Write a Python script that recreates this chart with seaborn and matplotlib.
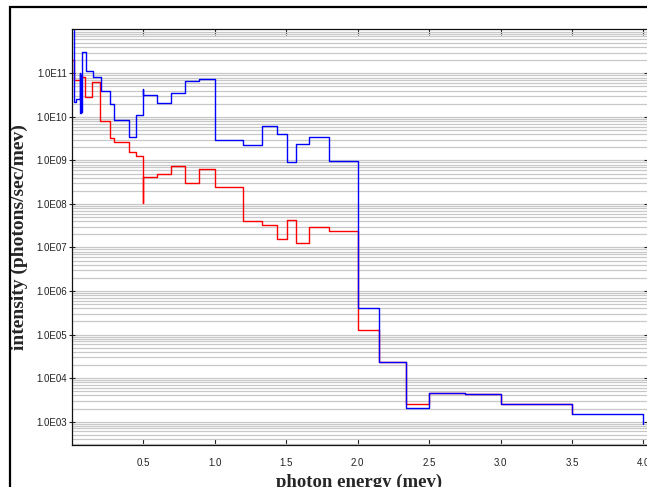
import matplotlib
matplotlib.use("Agg")
import matplotlib.pyplot as plt
import matplotlib.ticker as mticker
from matplotlib.patches import Rectangle
import numpy as np
import pandas as pd
import seaborn as sns

# ---- data (step histograms, value holds from x[i] to x[i+1]) ----
blue_x = [0.0, 0.013, 0.03, 0.056, 0.059, 0.063, 0.066, 0.069, 0.095, 0.145, 0.2,
          0.264, 0.295, 0.397, 0.449, 0.5, 0.5, 0.593, 0.696, 0.79, 0.89, 1.0,
          1.2, 1.33, 1.438, 1.504, 1.567, 1.66, 1.8, 2.0, 2.15, 2.34, 2.5,
          2.75, 3.0, 3.5, 4.0]
blue_y = [1e13, 2.2e10, 2.6e10, 1.0e11, 1.2e10, 9.0e10, 1.3e10, 3.1e11, 1.1e11, 8.1e10, 4.0e10,
          1.94e10, 8.3e9, 3.4e9, 1.08e10, 4.3e10, 3.2e10, 2.05e10, 3.6e10, 6.8e10, 7.4e10, 2.9e9,
          2.2e9, 6.2e9, 4.1e9, 9.1e8, 2.4e9, 3.5e9, 9.8e8, 4.0e5, 2.4e4, 2.1e3, 4.6e3,
          4.4e3, 2.6e3, 1.5e3, 8.9e2]

red_x = [0.0, 0.017, 0.062, 0.092, 0.143, 0.197, 0.264, 0.295, 0.397, 0.449, 0.5, 0.5,
         0.593, 0.696, 0.79, 0.89, 1.0, 1.2, 1.33, 1.438, 1.504, 1.567, 1.66, 1.8,
         2.0, 2.15, 2.34, 2.5, 2.75, 3.0, 3.5]
red_y = [2.0e11, 7.0e10, 8.4e10, 2.8e10, 6.4e10, 8.0e9, 3.3e9, 2.6e9, 1.54e9, 1.27e9, 1.05e8, 4.1e8,
         5.0e8, 7.5e8, 3.0e8, 6.3e8, 2.5e8, 4.1e7, 3.2e7, 1.6e7, 4.3e7, 1.3e7, 3.0e7, 2.4e7,
         1.3e5, 2.4e4, 2.6e3, 4.6e3, 4.4e3, 2.6e3, 1.5e3]

xtick_vals = [0.5, 1.0, 1.5, 2.0, 2.5, 3.0, 3.5, 4.0]
ytick_vals = [1e3, 1e4, 1e5, 1e6, 1e7, 1e8, 1e9, 1e10, 1e11]

df = pd.concat([
    pd.DataFrame({"energy": red_x, "intensity": red_y, "series": "red"}),
    pd.DataFrame({"energy": blue_x, "intensity": blue_y, "series": "blue"}),
], ignore_index=True)

sns.set_style("white")
plt.rcParams["font.family"] = ["Liberation Sans", "DejaVu Sans"]

fig = plt.figure(figsize=(6.47, 4.87), dpi=100)
W, H = 647, 487
ax = fig.add_axes([72 / W, 1 - 445 / H, (W - 72) / W, (445 - 29) / H])

sns.lineplot(data=df, x="energy", y="intensity", hue="series",
             hue_order=["red", "blue"], palette={"red": "#ff0000", "blue": "#0000ff"},
             estimator=None, sort=False, drawstyle="steps-post", lw=1.0,
             legend=False, ax=ax)

ax.set_yscale("log")
ax.set_xlim(0, (W - 71.8) / 142.9)
ax.set_ylim(10 ** 2.465, 10 ** 12.017)

ax.set_xticks(xtick_vals)
ax.set_xticklabels([f"{v:.1f}" for v in xtick_vals])
ax.set_yticks(ytick_vals)
ax.set_yticklabels([f"1.0E{int(round(np.log10(v))):02d}" for v in ytick_vals])
ax.yaxis.set_minor_locator(mticker.LogLocator(base=10, subs=np.arange(2, 10), numticks=20))
ax.yaxis.set_minor_formatter(mticker.NullFormatter())

ax.grid(False)
ax.yaxis.grid(True, which="both", color="#c8c8c8", lw=0.9)
ax.set_axisbelow(True)

ax.tick_params(axis="x", which="major", direction="in", length=4, width=0.8,
               top=True, bottom=True, labelsize=7, pad=9, colors="#222222")
ax.tick_params(axis="y", which="major", direction="inout", length=4, width=0.8,
               left=True, right=True, labelsize=7, pad=1.5, colors="#222222")
ax.tick_params(axis="y", which="minor", length=0)

for s in ["left", "top", "bottom"]:
    ax.spines[s].set_color("#111111")
    ax.spines[s].set_linewidth(0.9)
ax.spines["right"].set_visible(False)

ax.set_xlabel("photon energy (mev)", family=["Liberation Serif"], fontweight="bold", fontsize=13.5)
ax.set_ylabel("intensity (photons/sec/mev)", family=["Liberation Serif"], fontweight="bold", fontsize=14)
ax.xaxis.set_label_coords(0.5, (445 - 482) / 416)
ax.xaxis.label.set_va("center")
ax.yaxis.set_label_coords((19 - 72) / 575, 0.5)
ax.yaxis.label.set_va("center")
ax.yaxis.label.set_ha("center")

# outer frame of the original figure
fig.patches.append(Rectangle((10 / W, -0.5), 2.0, 0.5 + (1 - 7.3 / H), transform=fig.transFigure,
                             fill=False, edgecolor="black", lw=1.6, clip_on=False))

fig.savefig("out.png", dpi=100)
